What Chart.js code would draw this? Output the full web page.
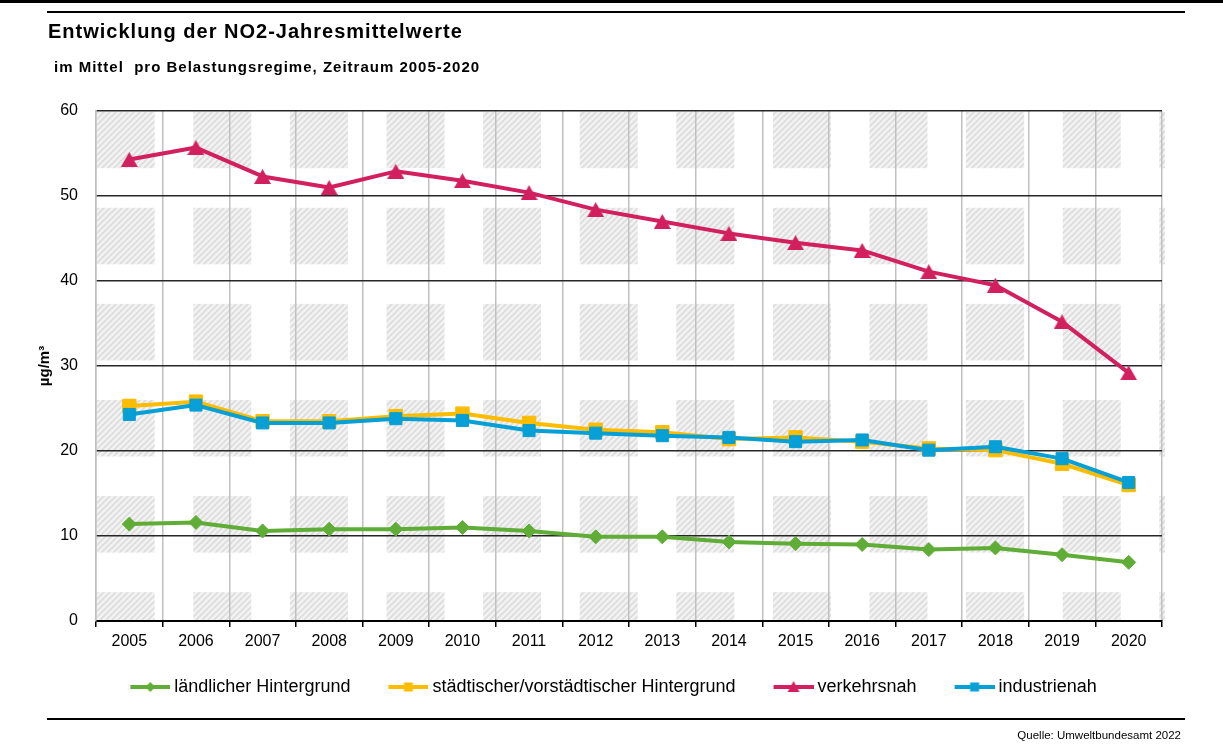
<!DOCTYPE html>
<html><head><meta charset="utf-8">
<script src="https://cdn.jsdelivr.net/npm/chart.js@4.4.1/dist/chart.umd.min.js"></script>
<style>
html,body{margin:0;padding:0;background:#fff;}
#wrap{position:relative;width:1223px;height:745px;overflow:hidden;font-family:'Liberation Sans',Arial,sans-serif;color:#000;}
canvas{position:absolute;left:0;top:0;}
.rule{position:absolute;background:#000;}
#title{position:absolute;left:48px;top:21px;font-size:20px;font-weight:bold;line-height:20px;letter-spacing:1px;white-space:nowrap;}
#subtitle{position:absolute;left:54px;top:59px;font-size:15px;font-weight:bold;line-height:15px;letter-spacing:1px;white-space:pre;}
#source{position:absolute;right:42px;top:729px;font-size:11.5px;line-height:12px;white-space:nowrap;}
</style></head>
<body><div id="wrap">
<canvas id="c" width="1223" height="745"></canvas>
<div class="rule" style="left:0;top:0;width:1223px;height:3px"></div>
<div class="rule" style="left:47px;top:11px;width:1138px;height:1.5px"></div>
<div id="title">Entwicklung der NO2-Jahresmittelwerte</div>
<div id="subtitle">im Mittel  pro Belastungsregime, Zeitraum 2005-2020</div>
<div class="rule" style="left:47px;top:718px;width:1138px;height:2px"></div>
<div id="source">Quelle: Umweltbundesamt 2022</div>
</div>
<script>
// ---- data ----
const years = ['2005','2006','2007','2008','2009','2010','2011','2012','2013','2014','2015','2016','2017','2018','2019','2020'];
const laendlich    = [11.4, 11.6, 10.6, 10.8, 10.8, 11.0, 10.6, 9.9, 9.9, 9.3, 9.1, 9.0, 8.4, 8.6, 7.8, 6.9];
const staedtisch   = [25.3, 25.8, 23.5, 23.5, 24.1, 24.4, 23.3, 22.5, 22.2, 21.4, 21.6, 21.1, 20.3, 20.1, 18.5, 16.0];
const verkehrsnah  = [54.3, 55.7, 52.3, 51.0, 52.9, 51.8, 50.4, 48.4, 47.0, 45.6, 44.5, 43.6, 41.1, 39.5, 35.2, 29.2];
const industrienah = [24.3, 25.4, 23.3, 23.3, 23.8, 23.6, 22.4, 22.1, 21.8, 21.6, 21.1, 21.3, 20.1, 20.5, 19.1, 16.3];
const seriesNames  = ['ländlicher Hintergrund','städtischer/vorstädtischer Hintergrund','verkehrsnah','industrienah'];
const yTicks = [0,10,20,30,40,50,60];
const yAxisTitle = 'µg/m³';

// ---- styles ----
const GREEN='#5fad36', YELLOW='#fdbc00', RED='#d2205f', BLUE='#069fd6';
Chart.defaults.font.family = "'Liberation Sans', Arial, sans-serif";
Chart.defaults.color = '#000';

function triCanvas(color,w,h){
  const c=document.createElement('canvas'); c.width=w; c.height=h;
  const g=c.getContext('2d'); g.fillStyle=color; g.beginPath();
  g.moveTo(w/2,0); g.lineTo(w,h); g.lineTo(0,h); g.closePath(); g.fill(); return c;
}
function legendSample(color,shape){
  const W=66,H=16; const c=document.createElement('canvas'); c.width=W; c.height=H;
  const g=c.getContext('2d');
  g.strokeStyle=color; g.lineWidth=4; g.beginPath(); g.moveTo(26,8); g.lineTo(66,8); g.stroke();
  g.fillStyle=color; const cx=46, cy=8; g.beginPath();
  if(shape==='diamond'){ g.moveTo(cx,cy-5); g.lineTo(cx+5,cy); g.lineTo(cx,cy+5); g.lineTo(cx-5,cy); }
  else if(shape==='square'){ g.rect(cx-4.5,cy-4.5,9,9); }
  else { g.moveTo(cx,cy-6); g.lineTo(cx+6,cy+5); g.lineTo(cx-6,cy+5); }
  g.closePath(); g.fill(); return c;
}
const legendSamples=[legendSample(GREEN,'diamond'),legendSample(YELLOW,'square'),legendSample(RED,'triangle'),legendSample(BLUE,'square')];

const hatchPlugin={
  id:'hatch',
  afterLayout(chart){ if(chart.legend){ chart.legend.left+=22; chart.legend.right+=22; } },
  beforeDraw(chart){
    const {ctx, chartArea:a}=chart;
    const p=document.createElement('canvas'); p.width=6; p.height=6;
    const g=p.getContext('2d');
    g.fillStyle='#f2f2f2'; g.fillRect(0,0,6,6);
    g.strokeStyle='#dcdcdc'; g.lineWidth=1.6; g.beginPath();
    g.moveTo(0,6); g.lineTo(6,0); g.moveTo(-3,3); g.lineTo(3,-3); g.moveTo(3,9); g.lineTo(9,3); g.stroke();
    const pat=ctx.createPattern(p,'repeat');
    ctx.save(); ctx.beginPath(); ctx.rect(a.left,a.top,a.right-a.left+3,a.bottom-a.top); ctx.clip();
    ctx.fillStyle=pat;
    for(let y=a.top+0.7;y<a.bottom;y+=96.1) for(let x=a.left+0.7;x<a.right+3;x+=96.6) ctx.fillRect(x,y,58,56.5);
    ctx.restore();
  }
};

function ds(label,data,color,extra){
  return Object.assign({label,data,borderColor:color,backgroundColor:color,pointBackgroundColor:color,pointBorderColor:color,
    borderWidth:4,pointBorderWidth:1,tension:0,fill:false,borderJoinStyle:'round'},extra);
}

new Chart(document.getElementById('c'),{
  type:'line',
  data:{labels:years,datasets:[
    ds(seriesNames[0],laendlich,GREEN,{pointStyle:'rectRot',pointRadius:7,order:1}),
    ds(seriesNames[1],staedtisch,YELLOW,{pointStyle:'rect',pointRadius:9.5,order:2}),
    ds(seriesNames[2],verkehrsnah,RED,{pointStyle:triCanvas(RED,17,15),pointRadius:8,order:1}),
    ds(seriesNames[3],industrienah,BLUE,{pointStyle:'rect',pointRadius:8.5,order:0})
  ]},
  options:{
    responsive:false, animation:false, events:[],
    layout:{padding:{top:111,left:0,right:61,bottom:39}},
    plugins:{
      tooltip:{enabled:false},
      legend:{position:'bottom',labels:{usePointStyle:true,pointStyleWidth:56,padding:17,color:'#000',
        font:{size:18},
        generateLabels(chart){return chart.data.datasets.map((d,i)=>({text:d.label,fillStyle:d.borderColor,strokeStyle:d.borderColor,lineWidth:0,pointStyle:legendSamples[i],hidden:false,datasetIndex:i,fontColor:'#000'}));}
      }}
    },
    scales:{
      x:{offset:true,
        grid:{offset:true,color:'#c0c0c0',lineWidth:1.5,tickColor:'#000',tickLength:6,z:-1},
        border:{color:'#000',width:2},
        ticks:{font:{size:16},color:'#000',padding:5,maxRotation:0,autoSkip:false},
        afterFit(s){s.height=40;}
      },
      y:{min:0,max:60,
        afterBuildTicks(s){s.ticks=yTicks.map(v=>({value:v}));},
        ticks:{font:{size:16},color:'#000',padding:18},
        grid:{color:'#262626',lineWidth:1.5,drawTicks:false},
        border:{color:'#bfbfbf',width:1.5},
        title:{display:true,text:yAxisTitle,color:'#000',font:{size:15,weight:'bold'},padding:{top:36,bottom:0}},
        afterFit(s){s.width=96;}
      }
    }
  },
  plugins:[hatchPlugin]
});
</script>
</body></html>
